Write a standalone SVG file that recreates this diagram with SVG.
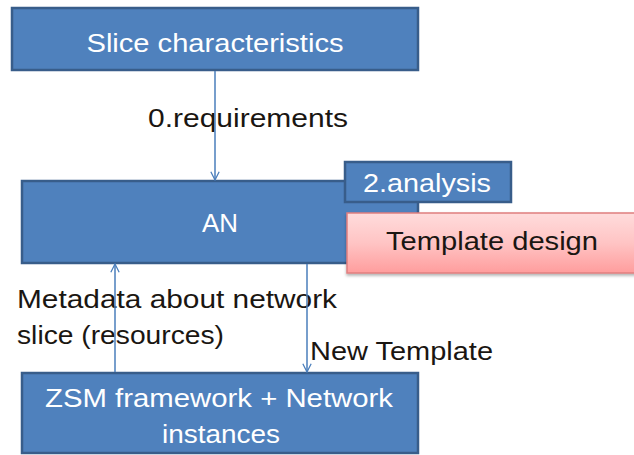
<svg xmlns="http://www.w3.org/2000/svg" width="634" height="455" viewBox="0 0 634 455">
  <style>
    .box { fill: #4f81bd; stroke: #385d8a; stroke-width: 2.5; }
    .btxt { fill: #ffffff; font-family: "Liberation Sans", Arial, sans-serif; font-size: 26px; text-anchor: middle; }
    .lbl { fill: #1a1612; font-family: "Liberation Sans", Arial, sans-serif; font-size: 26px; }
    .conn { stroke: #4a7ebb; stroke-width: 1.5; fill: none; }
  </style>
  <defs>
    <marker id="arr" viewBox="0 0 12 12" refX="11" refY="6" markerWidth="10" markerHeight="10" markerUnits="userSpaceOnUse" orient="auto">
      <path d="M1,1 L11,6 L1,11" fill="none" stroke="#4a7ebb" stroke-width="1.5"/>
    </marker>
    <linearGradient id="pink" x1="0" y1="0" x2="0" y2="1">
      <stop offset="0" stop-color="#ffdcdc"/>
      <stop offset="0.5" stop-color="#ffc4c4"/>
      <stop offset="1" stop-color="#ff9d9d"/>
    </linearGradient>
    <filter id="sh" x="-10%" y="-10%" width="120%" height="130%">
      <feDropShadow dx="0" dy="2" stdDeviation="1.5" flood-color="#000" flood-opacity="0.3"/>
    </filter>
  </defs>

  <g id="slice">
    <rect class="box" x="12" y="8" width="406" height="62"/>
    <text class="btxt" x="215" y="52" textLength="257" lengthAdjust="spacingAndGlyphs">Slice characteristics</text>
  </g>

  <g id="an">
    <rect class="box" x="22" y="181" width="396" height="82"/>
    <text class="btxt" x="220" y="232" textLength="36" lengthAdjust="spacingAndGlyphs">AN</text>
  </g>

  <g id="analysis">
    <rect class="box" x="345" y="162" width="166" height="40"/>
    <text class="btxt" x="427" y="192" textLength="128" lengthAdjust="spacingAndGlyphs">2.analysis</text>
  </g>

  <g id="template">
    <rect x="347" y="213" width="290" height="60" fill="url(#pink)" stroke="#e07f7f" stroke-width="1.5" filter="url(#sh)"/>
    <text class="lbl" x="386" y="250" textLength="212" lengthAdjust="spacingAndGlyphs">Template design</text>
  </g>

  <g id="zsm">
    <rect class="box" x="22" y="373" width="396" height="80"/>
    <text class="btxt" x="219" y="407" textLength="348" lengthAdjust="spacingAndGlyphs">ZSM framework + Network</text>
    <text class="btxt" x="221" y="443" textLength="118" lengthAdjust="spacingAndGlyphs">instances</text>
  </g>

  <g id="labels">
    <text class="lbl" x="148" y="127" textLength="200" lengthAdjust="spacingAndGlyphs">0.requirements</text>
    <text class="lbl" x="17" y="308" textLength="320" lengthAdjust="spacingAndGlyphs">Metadata about network</text>
    <text class="lbl" x="17" y="344" textLength="207" lengthAdjust="spacingAndGlyphs">slice (resources)</text>
    <text class="lbl" x="310" y="360" textLength="183" lengthAdjust="spacingAndGlyphs">New Template</text>
  </g>

  <g id="connectors">
    <line class="conn" x1="215" y1="71" x2="215" y2="180" marker-end="url(#arr)"/>
    <line class="conn" x1="115" y1="372" x2="115" y2="264" marker-end="url(#arr)"/>
    <line class="conn" x1="307" y1="264" x2="307" y2="372" marker-end="url(#arr)"/>
  </g>
</svg>
